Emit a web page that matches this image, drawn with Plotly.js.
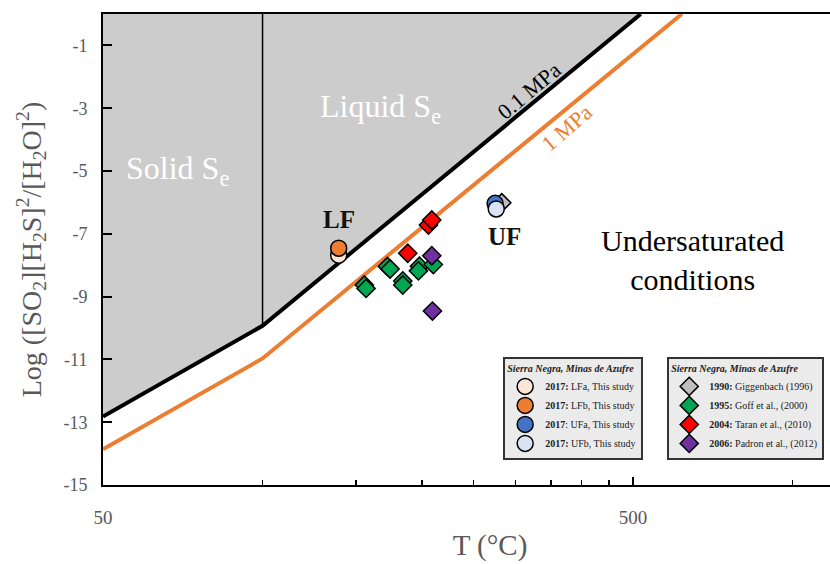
<!DOCTYPE html>
<html>
<head>
<meta charset="utf-8">
<script src="https://cdn.plot.ly/plotly-3.0.1.min.js"></script>
<style>
html,body{margin:0;padding:0;overflow:hidden;background:#fff;}
#chart{width:880px;height:564px;}
</style>
</head>
<body>
<div id="chart"></div>
<script>
// ---- Boundary curves (T in °C, log value) ----
var line01T = [50, 100, 517];
var line01Y = [-12.82, -9.93, 0];
var line1T = [50, 100, 618];
var line1Y = [-13.86, -10.97, 0];
var liquidSolidT = [100, 100];
var liquidSolidY = [-9.93, 0];

// ---- Data: this study (2017) ----
var lfaT = [139.2], lfaY = [-7.68];
var lfbT = [139.2], lfbY = [-7.46];
var ufaT = [274.6], ufaY = [-6.03];
var ufbT = [276.0], ufbY = [-6.21];

// ---- Data: previous studies ----
var g1990T = [282.7], g1990Y = [-6.01];
var g1995T = [172.0, 174.0, 197.7, 196.8, 210.0, 183.9, 183.9, 155.6, 156.8];
var g1995Y = [-8.04, -8.12, -8.03, -8.18, -7.98, -8.50, -8.63, -8.63, -8.74];
var g2004T = [205.6, 208.6, 187.9];
var g2004Y = [-6.72, -6.56, -7.62];
var g2006T = [208.6, 209.2];
var g2006Y = [-7.70, -9.46];

// ---- Ticks ----
var xTickVals = [50, 500];
var xTickText = ['50', '500'];
var xMinorVals = [100, 150, 200, 250, 300, 350, 400, 450, 1000];
var yTickVals = [-1, -3, -5, -7, -9, -11, -13, -15];
var yTickText = ['-1', '-3', '-5', '-7', '-9', '-11', '-13', '-15'];

var legTitle = '<i><b>Sierra Negra, Minas de Azufre</b></i>';
var serif = 'Liberation Serif, Times New Roman, serif';

var traces = [
  {x: line01T.concat([50]), y: line01Y.concat([0]), mode: 'lines', fill: 'toself',
   fillcolor: '#cccccc', line: {width: 0, color: 'rgba(0,0,0,0)'}, showlegend: false, hoverinfo: 'skip'},
  {x: liquidSolidT, y: liquidSolidY, mode: 'lines', line: {color: '#000', width: 1.5}, showlegend: false},
  {x: line1T, y: line1Y, mode: 'lines', line: {color: '#ed7d31', width: 4}, showlegend: false},
  {x: line01T, y: line01Y, mode: 'lines', line: {color: '#000', width: 4}, showlegend: false},

  {x: g1990T, y: g1990Y, mode: 'markers', name: '<b>1990:</b> Giggenbach (1996)', legend: 'legend2',
   marker: {symbol: 'diamond', size: 14, color: '#bfbfbf', line: {color: '#000', width: 1.5}}},
  {x: g1995T, y: g1995Y, mode: 'markers', name: '<b>1995:</b> Goff et al., (2000)', legend: 'legend2',
   marker: {symbol: 'diamond', size: 14, color: '#00a651', line: {color: '#000', width: 1.5}}},
  {x: g2004T, y: g2004Y, mode: 'markers', name: '<b>2004:</b> Taran et al., (2010)', legend: 'legend2',
   marker: {symbol: 'diamond', size: 14, color: '#ff0000', line: {color: '#000', width: 1.5}}},
  {x: g2006T, y: g2006Y, mode: 'markers', name: '<b>2006:</b> Padron et al., (2012)', legend: 'legend2',
   marker: {symbol: 'diamond', size: 14, color: '#7030a0', line: {color: '#000', width: 1.5}}},

  {x: lfaT, y: lfaY, mode: 'markers', name: '<b>2017:</b> LFa, This study', legend: 'legend',
   marker: {symbol: 'circle', size: 16, color: '#fbe5d6', line: {color: '#000', width: 1.5}}},
  {x: lfbT, y: lfbY, mode: 'markers', name: '<b>2017:</b> LFb, This study', legend: 'legend',
   marker: {symbol: 'circle', size: 16, color: '#ed7d31', line: {color: '#000', width: 1.5}}},
  {x: ufaT, y: ufaY, mode: 'markers', name: '<b>2017</b>: UFa, This study', legend: 'legend',
   marker: {symbol: 'circle', size: 16, color: '#4472c4', line: {color: '#000', width: 1.5}}},
  {x: ufbT, y: ufbY, mode: 'markers', name: '<b>2017:</b> UFb, This study', legend: 'legend',
   marker: {symbol: 'circle', size: 16, color: '#dae3f3', line: {color: '#000', width: 1.5}}}
];

var legendCommon = {
  bgcolor: '#ebebeb', bordercolor: '#333', borderwidth: 2,
  font: {family: serif, size: 10, color: '#222'},
  xanchor: 'left', yanchor: 'top', tracegroupgap: 0, itemwidth: 30,
  title: {text: legTitle, font: {family: serif, size: 10, color: '#222'}}
};

var layout = {
  width: 880, height: 564,
  margin: {l: 103, r: 3, t: 14, b: 79},
  paper_bgcolor: '#fff', plot_bgcolor: '#fff',
  font: {family: serif},
  xaxis: {
    type: 'log', range: [Math.log10(50), Math.log10(1443)],
    tickmode: 'array', tickvals: xTickVals, ticktext: xTickText,
    ticks: 'inside', ticklen: 8, tickwidth: 1.5, tickcolor: '#000',
    minor: {tickmode: 'array', tickvals: xMinorVals, ticks: 'inside', ticklen: 5,
            tickwidth: 1.5, tickcolor: '#000', showgrid: false},
    ticklabelstandoff: 14,
    showline: true, linecolor: '#000', linewidth: 2, mirror: true,
    showgrid: false, zeroline: false,
    tickfont: {family: serif, size: 19, color: '#595959'},
    title: {text: 'T (°C)', font: {family: serif, size: 29, color: '#595959'}, standoff: 8}
  },
  yaxis: {
    range: [-15, 0], tickmode: 'array', tickvals: yTickVals, ticktext: yTickText,
    ticks: 'inside', ticklen: 9, tickwidth: 2, tickcolor: '#000',
    ticklabelstandoff: 10,
    showline: true, linecolor: '#000', linewidth: 2,
    showgrid: false, zeroline: false,
    tickfont: {family: serif, size: 18, color: '#595959'},
    title: {text: 'Log ([SO<sub>2</sub>][H<sub>2</sub>S]<sup>2</sup>/[H<sub>2</sub>O]<sup>2</sup>)',
            font: {family: serif, size: 28, color: '#595959'}, standoff: 14}
  },
  legend: Object.assign({}, legendCommon, {x: 0.517, y: 0.272}),
  legend2: Object.assign({}, legendCommon, {x: 0.729, y: 0.272}),
  annotations: [
    {x: Math.log10(69), y: -4.97, text: 'Solid S<sub>e</sub>', showarrow: false,
     font: {family: serif, size: 32, color: '#fff'}},
    {x: Math.log10(167), y: -3.0, text: 'Liquid S<sub>e</sub>', showarrow: false,
     font: {family: serif, size: 32, color: '#fff'}},
    {x: Math.log10(319), y: -2.45, text: '0.1 MPa', showarrow: false, textangle: -40,
     font: {family: serif, size: 22, color: '#000'}},
    {x: Math.log10(376), y: -3.63, text: '1 MPa', showarrow: false, textangle: -41,
     font: {family: serif, size: 22, color: '#ed7d31'}},
    {x: Math.log10(139.5), y: -6.56, text: '<b>LF</b>', showarrow: false,
     font: {family: serif, size: 25, color: '#111'}},
    {x: Math.log10(286.6), y: -7.1, text: '<b>UF</b>', showarrow: false,
     font: {family: serif, size: 25, color: '#111'}},
    {x: Math.log10(646), y: -7.83, text: 'Undersaturated<br>conditions', showarrow: false,
     font: {family: serif, size: 30, color: '#000'}}
  ]
};

Plotly.newPlot('chart', traces, layout, {displayModeBar: false, staticPlot: true});
</script>
</body>
</html>
